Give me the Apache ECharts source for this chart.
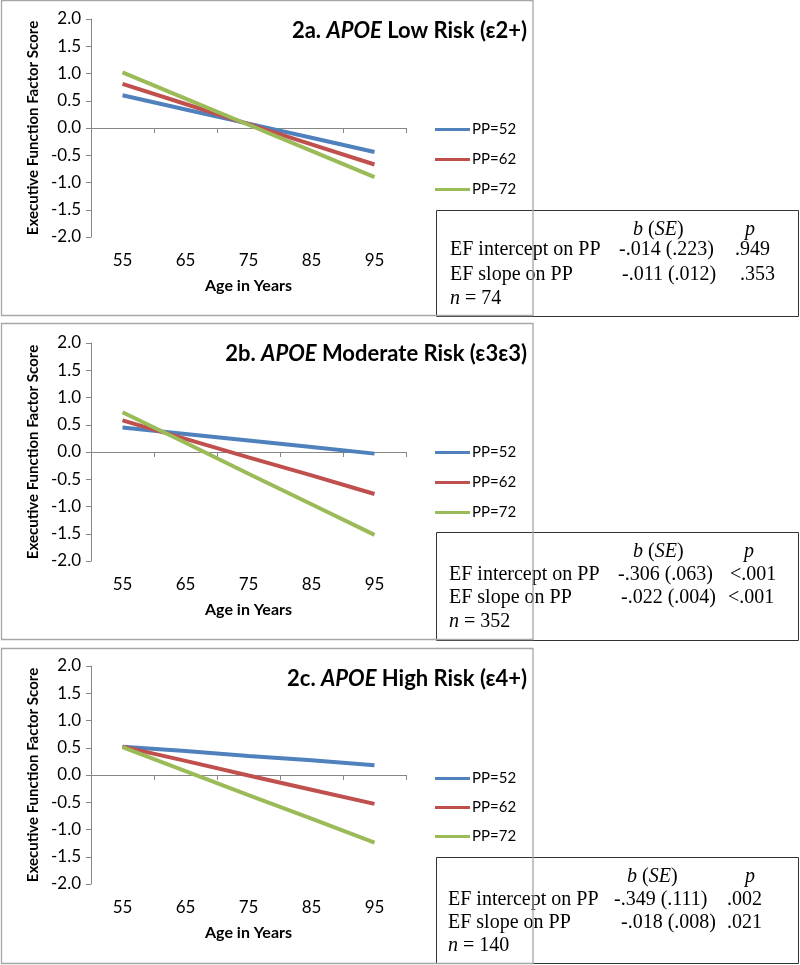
<!DOCTYPE html>
<html>
<head>
<meta charset="utf-8">
<script src="https://cdn.jsdelivr.net/npm/echarts@6/dist/echarts.min.js"></script>
<style>
html,body{margin:0;padding:0;background:#fff;}
#c{width:800px;height:965px;}
</style>
</head>
<body>
<div id="c"></div>
<script>
// ---- data ----
const ages = ['55', '65', '75', '85', '95'];
const seriesNames = ['PP=52', 'PP=62', 'PP=72'];
const yTicks = [-2.0, -1.5, -1.0, -0.5, 0.0, 0.5, 1.0, 1.5, 2.0];

// 2a. APOE Low Risk
const lowPP52 = [0.60, 0.34, 0.08, -0.18, -0.44];
const lowPP62 = [0.81, 0.44, 0.07, -0.30, -0.67];
const lowPP72 = [1.02, 0.54, 0.06, -0.42, -0.90];
// 2b. APOE Moderate Risk
const modPP52 = [0.45, 0.33, 0.21, 0.09, -0.03];
const modPP62 = [0.58, 0.24, -0.10, -0.43, -0.77];
const modPP72 = [0.73, 0.17, -0.40, -0.96, -1.52];
// 2c. APOE High Risk
const highPP52 = [0.52, 0.44, 0.35, 0.27, 0.18];
const highPP62 = [0.52, 0.26, -0.01, -0.27, -0.53];
const highPP72 = [0.51, 0.07, -0.37, -0.80, -1.24];

const panelLabels = ['2a. ', '2b. ', '2c. '];
const panelRisks = [' Low Risk (ε2+)', ' Moderate Risk (ε3ε3)', ' High Risk (ε4+)'];
const statRowLabels = ['EF intercept on PP', 'EF slope on PP'];
const interceptB = ['-.014 (.223)', '-.306 (.063)', '-.349 (.111)'];
const slopeB = ['-.011 (.012)', '-.022 (.004)', '-.018 (.008)'];
const interceptP = ['.949', '<.001', '.002'];
const slopeP = ['.353', '<.001', '.021'];
const nValues = ['74', '352', '140'];

// ---- layout ----
const colors = ['#4F81BD', '#C0504D', '#9BBB59'];
const panelData = [[lowPP52, lowPP62, lowPP72], [modPP52, modPP62, modPP72], [highPP52, highPP62, highPP72]];
const panelTop = [0, 323, 648];
const panelBottom = [315, 639, 963];
const gridTop = [19, 343, 666];
const legendTop = [117, 440, 766];
const legendGap = [15, 15, 14];
const boxTop = [210, 532, 857];
const boxBottom = [316, 640, 963];
const hdrY = [230, 552, 877];
const row1Y = [250, 575, 900];
const row2Y = [275, 598, 923];
const nY = [299, 622, 946];
const val1X = [619, 618, 614];
const val2X = [622, 621, 621];
const p1X = [735, 730, 727];
const p2X = [740, 728, 727];
const hdrBX = [633, 633, 627];
const hdrPX = [745, 744, 745];
const labelX = [450, 449, 448];

const sansFam = 'Lato, "Open Sans", sans-serif';
const serifFam = '"Liberation Serif", "Times New Roman", serif';
const axisGray = '#868686';

const grids = [], xAxes = [], yAxes = [], series = [], legends = [], titles = [], graphics = [];

for (let p = 0; p < 3; p++) {
  grids.push({left: 91, top: gridTop[p], width: 315, height: 218});
  // axis line at zero with ticks
  xAxes.push({
    type: 'category', gridIndex: p, data: ages, boundaryGap: true, position: 'bottom',
    axisLine: {show: true, onZero: true, lineStyle: {color: axisGray, width: 1}},
    axisTick: {show: true, length: 5, lineStyle: {color: axisGray}},
    axisLabel: {show: false}, splitLine: {show: false}
  });
  // labels at bottom
  xAxes.push({
    type: 'category', gridIndex: p, data: ages, boundaryGap: true, position: 'bottom',
    axisLine: {show: false, onZero: false}, axisTick: {show: false},
    axisLabel: {show: true, margin: 15, color: '#000', fontFamily: sansFam, fontSize: 17},
    splitLine: {show: false},
    name: 'Age in Years', nameLocation: 'middle', nameGap: 41,
    nameTextStyle: {fontFamily: sansFam, fontWeight: 'bold', fontSize: 16, color: '#000'}
  });
  yAxes.push({
    type: 'value', gridIndex: p, min: -2, max: 2, interval: 0.5,
    axisLine: {show: true, lineStyle: {color: axisGray, width: 1}},
    axisTick: {show: true, length: 5, lineStyle: {color: axisGray}},
    axisLabel: {margin: 10, color: '#000', fontFamily: sansFam, fontSize: 17,
      formatter: v => v.toFixed(1)},
    splitLine: {show: false},
    name: 'Executive Function Factor Score', nameLocation: 'middle', nameGap: 50,
    nameTextStyle: {fontFamily: sansFam, fontWeight: 'bold', fontSize: 15, color: '#000'}
  });
  for (let s = 0; s < 3; s++) {
    series.push({
      type: 'line', name: seriesNames[s], xAxisIndex: 2 * p, yAxisIndex: p,
      data: panelData[p][s], symbol: 'none', showSymbol: false,
      lineStyle: {color: colors[s], width: 4}, itemStyle: {color: colors[s]},
      animation: false, z: 3 + s
    });
  }
  legends.push({
    orient: 'vertical', left: 430, top: legendTop[p], itemWidth: 35, itemHeight: 3,
    itemGap: legendGap[p], icon: 'rect', data: seriesNames, selectedMode: false,
    textStyle: {fontFamily: sansFam, fontSize: 15, color: '#000', padding: [0, 0, 0, -3]}
  });
  titles.push({
    text: '{a|' + panelLabels[p] + '}{b|APOE}{a|' + panelRisks[p] + '}',
    right: 268, top: panelTop[p] + 15,
    textStyle: {rich: {
      a: {fontFamily: sansFam, fontWeight: 'bold', fontSize: 22, color: '#000'},
      b: {fontFamily: sansFam, fontWeight: 'bold', fontStyle: 'italic', fontSize: 22, color: '#000'}
    }}
  });
  // stats box
  graphics.push({type: 'rect', z: 10, shape: {x: 436.5, y: boxTop[p] + 0.5, width: 362, height: boxBottom[p] - boxTop[p]},
    style: {fill: 'none', stroke: '#333', lineWidth: 1}});
  // panel border (drawn over stats box)
  graphics.push({type: 'rect', z: 20, shape: {x: 1.5, y: panelTop[p] + 0.5, width: 531.5, height: panelBottom[p] - panelTop[p]},
    style: {fill: 'none', stroke: '#a6a6a6', lineWidth: 1.3}});
  const txt = (x, y, text, rich) => ({type: 'text', z: 15, x: x, y: y,
    style: {text: text, font: '20px ' + serifFam, fill: '#000', verticalAlign: 'middle', align: 'left', rich: rich}});
  const ital = {i: {fontFamily: serifFam, fontSize: 20, fontStyle: 'italic', fill: '#000'},
                r: {fontFamily: serifFam, fontSize: 20, fill: '#000'}};
  graphics.push(txt(hdrBX[p], hdrY[p], '{i|b}{r| (}{i|SE}{r|)}', ital));
  graphics.push(txt(hdrPX[p], hdrY[p], '{i|p}', ital));
  graphics.push(txt(labelX[p], row1Y[p], statRowLabels[0]));
  graphics.push(txt(labelX[p], row2Y[p], statRowLabels[1]));
  graphics.push(txt(val1X[p], row1Y[p], interceptB[p]));
  graphics.push(txt(val2X[p], row2Y[p], slopeB[p]));
  graphics.push(txt(p1X[p], row1Y[p], interceptP[p]));
  graphics.push(txt(p2X[p], row2Y[p], slopeP[p]));
  graphics.push(txt(labelX[p], nY[p], '{i|n}{r| = ' + nValues[p] + '}', ital));
}

const chart = echarts.init(document.getElementById('c'), null, {renderer: 'canvas'});
chart.setOption({
  animation: false,
  backgroundColor: '#fff',
  title: titles,
  grid: grids,
  xAxis: xAxes,
  yAxis: yAxes,
  legend: legends,
  series: series,
  graphic: graphics
});
</script>
</body>
</html>
